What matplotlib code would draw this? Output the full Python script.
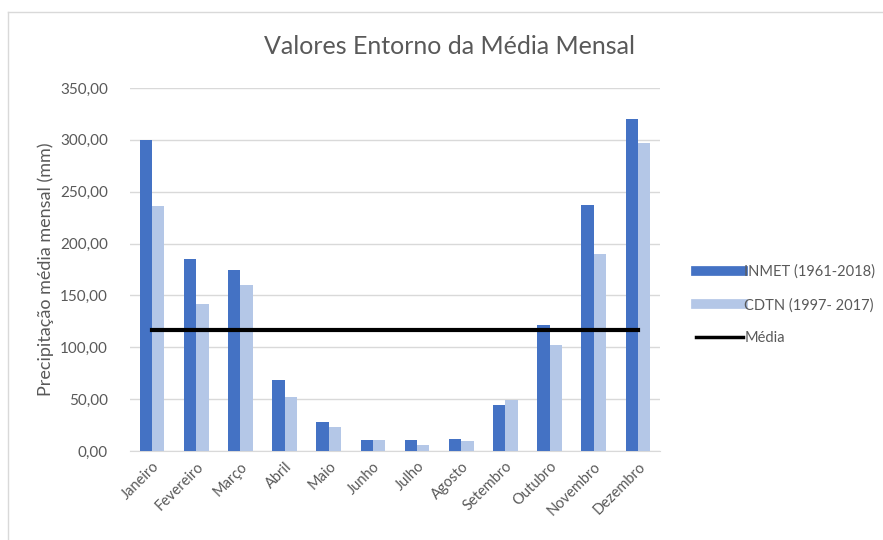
import matplotlib
matplotlib.use("Agg")
import matplotlib.pyplot as plt
from matplotlib.lines import Line2D
import numpy as np

plt.rcParams['font.family'] = ['Lato', 'DejaVu Sans']

months = ["Janeiro", "Fevereiro", "Março", "Abril", "Maio", "Junho",
          "Julho", "Agosto", "Setembro", "Outubro", "Novembro", "Dezembro"]
inmet = [300.0, 185.4, 175.0, 68.7, 28.0, 10.3, 10.3, 11.6, 44.0, 121.5, 237.0, 320.0]
cdtn = [236.0, 142.0, 160.5, 52.5, 23.0, 10.3, 5.8, 10.0, 49.3, 102.0, 190.0, 297.0]
yticks = [0, 50, 100, 150, 200, 250, 300, 350]

media = (np.mean(inmet) + np.mean(cdtn)) / 2

BLUE = "#4472C4"
LIGHT = "#B4C7E7"
TXT = "#595959"

fig = plt.figure(figsize=(8.83, 5.40), dpi=100)
ax = fig.add_axes([130 / 883, 1 - 451 / 540, 530 / 883, 363 / 540])

x = np.arange(len(months))
w = 0.28
ax.bar(x - w / 2, inmet, w, color=BLUE, zorder=3)
ax.bar(x + w / 2, cdtn, w, color=LIGHT, zorder=3)
ax.plot(x, [media] * len(x), color="black", lw=3, zorder=4)

ax.set_xlim(-0.5, len(months) - 0.5)
ax.set_ylim(0, 350)
ax.set_yticks(yticks)
ax.set_yticklabels([f"{v:.2f}".replace(".", ",") for v in yticks],
                   color=TXT, fontsize=11)
ax.set_xticks(x)
ax.set_xticklabels(months, rotation=45, ha="right", rotation_mode="anchor",
                   color=TXT, fontsize=10.5)
ax.tick_params(axis="y", length=0, pad=16)
ax.tick_params(axis="x", length=0, pad=6)
ax.grid(axis="y", color="#D9D9D9", lw=1, zorder=0)
for s in ["top", "right", "left"]:
    ax.spines[s].set_visible(False)
ax.spines["bottom"].set_color("#D9D9D9")

ax.set_ylabel("Precipitação média mensal (mm)", color=TXT, fontsize=13, labelpad=4)
fig.text(450 / 883, 1 - 47 / 540, "Valores Entorno da Média Mensal",
         ha="center", va="center", fontsize=18, color=TXT)

handles = [
    Line2D([], [], color=BLUE, lw=7),
    Line2D([], [], color=LIGHT, lw=7),
    Line2D([], [], color="black", lw=2.5),
]
labels = ["INMET (1961-2018)", "CDTN (1997- 2017)", "Média"]
fig.legend(handles, labels, loc="center left", bbox_to_anchor=(683 / 883, 1 - 305 / 540),
           frameon=False, fontsize=10.5, labelcolor=TXT, handlelength=3.2,
           handletextpad=0.1, labelspacing=1.3)

# chart area frame
fig.add_artist(Line2D([8 / 883, 1], [1 - 12 / 540] * 2, color="#D9D9D9", lw=1,
                      transform=fig.transFigure))
fig.add_artist(Line2D([8 / 883] * 2, [0, 1 - 12 / 540], color="#D9D9D9", lw=1,
                      transform=fig.transFigure))

fig.savefig("out.png", dpi=100)
